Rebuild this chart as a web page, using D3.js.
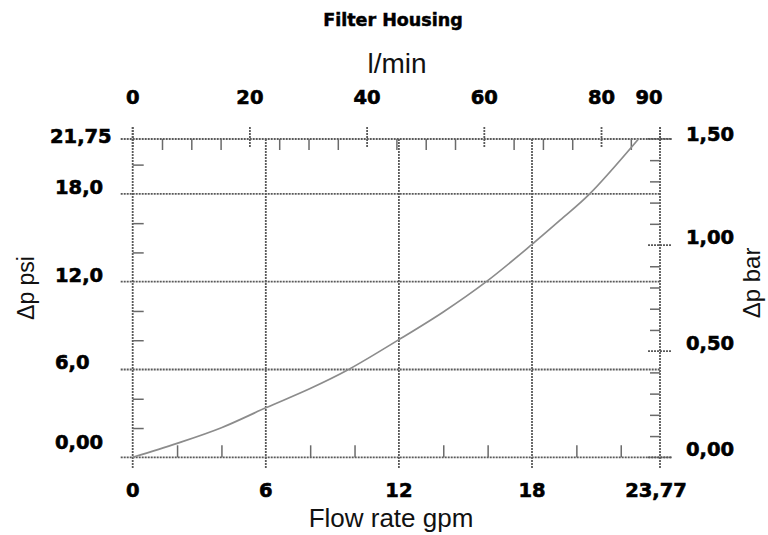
<!DOCTYPE html>
<html>
<head>
<meta charset="utf-8">
<script src="https://cdn.jsdelivr.net/npm/d3@7"></script>
<style>
  html, body { margin: 0; padding: 0; background: #fff; }
  svg { display: block; }
  .tick-label { font-family: "DejaVu Sans", sans-serif; font-weight: bold; font-size: 19.5px; fill: #000; stroke: #000; stroke-width: 0.6px; }
  .axis-title { font-family: "Liberation Sans", Arial, sans-serif; fill: #111; }
  .grid { stroke: #5a5a5a; stroke-width: 1.8; stroke-dasharray: 2 1; fill: none; }
  .minor { stroke: #6a6a6a; stroke-width: 1.5; fill: none; }
</style>
</head>
<body>
<svg id="chart" width="768" height="535"></svg>
<script>
// values
const gpmTicks = [0, 6, 12, 18, 23.77];
const gpmLabels = ["0", "6", "12", "18", "23,77"];
const psiTicks = [0, 6, 12, 18, 21.75];
const psiLabels = ["0,00", "6,0", "12,0", "18,0", "21,75"];
const lminTicks = [0, 20, 40, 60, 80, 90];
const lminLabels = ["0", "20", "40", "60", "80", "90"];
const barTicks = [0, 0.5, 1.0, 1.5];
const barLabels = ["0,00", "0,50", "1,00", "1,50"];

// pressure drop curve
const flowGpm = [0, 2, 4, 6, 8, 9.73, 12, 14, 15.94, 18, 19.28, 20.6, 22.8];
const dpPsi   = [0, 0.95, 2.02, 3.38, 4.7, 6, 8.04, 9.93, 12, 14.55, 16.22, 18, 21.75];

const plot = { left: 132.7, right: 660, top: 139, bottom: 457.3 };
const LPM_PER_GPM = 3.78541;
const BAR_PER_PSI = 1 / 14.5038;

const svg = d3.select("#chart");

const x = d3.scaleLinear().domain([0, 23.77]).range([plot.left, plot.right]);
const y = d3.scaleLinear().domain([0, 21.75]).range([plot.bottom, plot.top]);
const xl = d3.scaleLinear().domain([0, 23.77 * LPM_PER_GPM]).range([plot.left, plot.right]);
const yb = d3.scaleLinear().domain([0, 21.75 * BAR_PER_PSI]).range([plot.bottom, plot.top]);

const g = svg.append("g");

// horizontal lines (psi majors): 0 and top reach past the right axis
g.selectAll("line.hgrid")
    .data(psiTicks)
    .join("line")
    .attr("class", "grid hgrid")
    .attr("x1", plot.left - 12)
    .attr("x2", (d, i) => (i === 0 || i === psiTicks.length - 1) ? plot.right + 12 : plot.right)
    .attr("y1", d => y(d))
    .attr("y2", d => y(d));

// vertical lines (gpm majors)
g.selectAll("line.vgrid")
    .data(gpmTicks)
    .join("line")
    .attr("class", "grid vgrid")
    .attr("x1", d => x(d))
    .attr("x2", d => x(d))
    .attr("y1", (d, i) => (i === 0 || i === gpmTicks.length - 1) ? plot.top - 12 : plot.top)
    .attr("y2", plot.bottom + 11);

// top axis l/min majors (both sides of the line)
g.selectAll("line.lmaj")
    .data(lminTicks)
    .join("line")
    .attr("class", "grid lmaj")
    .attr("x1", d => xl(d)).attr("x2", d => xl(d))
    .attr("y1", plot.top - 12).attr("y2", plot.top + 9);

// top minor ticks every 5 l/min
const lminMinor = d3.range(5, 90, 5).filter(v => v % 20 !== 0);
g.append("g")
    .attr("transform", `translate(0,${plot.top})`)
    .call(d3.axisTop(xl).tickValues(lminMinor).tickSize(-11).tickFormat(""))
    .call(a => a.select(".domain").remove())
    .selectAll("line").attr("class", "minor");

// bottom minor ticks every 2 gpm
const gpmMinor = d3.range(2, 23, 2).filter(v => v % 6 !== 0);
g.append("g")
    .attr("transform", `translate(0,${plot.bottom})`)
    .call(d3.axisBottom(x).tickValues(gpmMinor).tickSize(-12).tickFormat(""))
    .call(a => a.select(".domain").remove())
    .selectAll("line").attr("class", "minor");

// left minor ticks every 2 psi
const psiMinor = d3.range(2, 21, 2).filter(v => v % 6 !== 0);
g.append("g")
    .attr("transform", `translate(${plot.left},0)`)
    .call(d3.axisLeft(y).tickValues(psiMinor).tickSize(-11).tickFormat(""))
    .call(a => a.select(".domain").remove())
    .selectAll("line").attr("class", "minor");

// right minor ticks every 0.1 bar
const barMinor = d3.range(0.1, 1.5, 0.1).filter(v => Math.abs(v * 2 - Math.round(v * 2)) > 0.01);
g.append("g")
    .attr("transform", `translate(${plot.right},0)`)
    .call(d3.axisRight(yb).tickValues(barMinor).tickSize(-10).tickFormat(""))
    .call(a => a.select(".domain").remove())
    .selectAll("line").attr("class", "minor");

// right major ticks
g.selectAll("line.bmaj")
    .data(barTicks)
    .join("line")
    .attr("class", "grid bmaj")
    .attr("x1", plot.right - 12).attr("x2", plot.right + 12)
    .attr("y1", d => yb(d)).attr("y2", d => yb(d));

// curve
const line = d3.line()
    .x(d => x(d[0]))
    .y(d => y(d[1]))
    .curve(d3.curveCatmullRom);
g.append("path")
    .datum(flowGpm.map((q, i) => [q, dpPsi[i]]))
    .attr("d", line)
    .attr("fill", "none")
    .attr("stroke", "#8c8c8c")
    .attr("stroke-width", 1.7);

// tick labels
svg.selectAll("text.lab-bottom")
    .data(gpmTicks)
    .join("text")
    .attr("class", "tick-label lab-bottom")
    .attr("x", (d, i) => x(d) - (i === gpmTicks.length - 1 ? 4 : 0))
    .attr("y", 497)
    .attr("text-anchor", "middle")
    .text((d, i) => gpmLabels[i]);

svg.selectAll("text.lab-top")
    .data(lminTicks)
    .join("text")
    .attr("class", "tick-label lab-top")
    .attr("x", (d, i) => xl(d) - (i === lminTicks.length - 1 ? 11 : 0))
    .attr("y", 104)
    .attr("text-anchor", "middle")
    .text((d, i) => lminLabels[i]);

svg.selectAll("text.lab-left")
    .data(psiTicks)
    .join("text")
    .attr("class", "tick-label lab-left")
    .attr("x", (d, i) => i === psiTicks.length - 1 ? 50 : 55)
    .attr("y", (d, i) => y(d) + (i === 0 ? -8 : i === psiTicks.length - 1 ? 4 : 0))
    .text((d, i) => psiLabels[i]);

svg.selectAll("text.lab-right")
    .data(barTicks)
    .join("text")
    .attr("class", "tick-label lab-right")
    .attr("x", 686)
    .attr("y", (d, i) => yb(d) + (i === barTicks.length - 1 ? 2 : -1))
    .text((d, i) => barLabels[i]);

// titles
svg.append("text")
    .attr("x", 393).attr("y", 26)
    .attr("text-anchor", "middle")
    .style("font-family", "'DejaVu Sans', sans-serif")
    .style("font-weight", "bold")
    .style("font-size", "17.5px")
    .style("fill", "#000")
    .style("stroke", "#000")
    .style("stroke-width", "0.5px")
    .text("Filter Housing");

svg.append("text")
    .attr("class", "axis-title")
    .attr("x", 397).attr("y", 73)
    .attr("text-anchor", "middle")
    .style("font-size", "28px")
    .text("l/min");

svg.append("text")
    .attr("class", "axis-title")
    .attr("x", 391).attr("y", 527)
    .attr("text-anchor", "middle")
    .style("font-size", "26px")
    .text("Flow rate gpm");

svg.append("text")
    .attr("class", "axis-title")
    .attr("transform", "translate(34,288) rotate(-90)")
    .attr("text-anchor", "middle")
    .style("font-size", "23px")
    .text("Δp psi");

svg.append("text")
    .attr("class", "axis-title")
    .attr("transform", "translate(760,283) rotate(-90)")
    .attr("text-anchor", "middle")
    .style("font-size", "24px")
    .text("Δp bar");
</script>
</body>
</html>
